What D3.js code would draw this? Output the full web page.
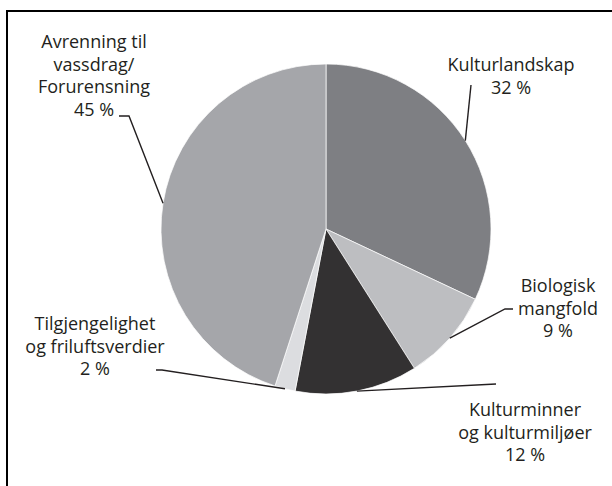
<!DOCTYPE html>
<html>
<head>
<meta charset="utf-8">
<script src="https://cdn.jsdelivr.net/npm/d3@7"></script>
<style>
    body { margin: 0; background: #fff; }
    svg { display: block; }
    .label { font-family: "Open Sans", sans-serif; font-size: 18px; fill: #231f20; }
    .leader { fill: none; stroke: #231f20; stroke-width: 1.4; }
    .frame { fill: none; stroke: #000; stroke-width: 2; }
</style>
</head>
<body>
<svg id="chart" width="612" height="486"></svg>
<script>

const categories = ["Kulturlandskap", "Biologisk mangfold", "Kulturminner og kulturmiljøer", "Tilgjengelighet og friluftsverdier", "Avrenning til vassdrag/Forurensning"];
const values = [32, 9, 12, 2, 45];
const labelLines = [
    ["Kulturlandskap", "32 %"],
    ["Biologisk", "mangfold", "9 %"],
    ["Kulturminner", "og kulturmiljøer", "12 %"],
    ["Tilgjengelighet", "og friluftsverdier", "2 %"],
    ["Avrenning til", "vassdrag/", "Forurensning", "45 %"]
];
const colors = ["#7e7f83", "#bdbec1", "#333132", "#dcdde0", "#a5a6aa"];

// where each label block sits and how its leader runs out from the pie
const layout = [
    { x: 511, y: 71, leader: [[471, 85]] },
    { x: 558, y: 292, leader: [[505, 309], [513, 309]] },
    { x: 525, y: 416, leader: [[496, 384]] },
    { x: 95, y: 330, leader: [[162, 370], [156, 370]] },
    { x: 94, y: 48, leader: [[129, 116], [119, 116]] }
];

class PieChart {

    constructor(svg) {

        this.svg = svg;
        this.cx = 326;
        this.cy = 229;
        this.radius = 165;
        this.lineHeight = 22.5;

        this.arcs = d3.pie()
            .value(d => d.value)
            .sort(null)(categories.map((c, i) => ({ name: c, value: values[i], index: i })));

        this.drawFrame();
        this.drawSlices();
        this.drawLeaders();
        this.drawLabels();

    }

    drawFrame() {

        this.svg
            .append("path")
                .classed("frame", true)
                .attr("d", "M7,486 L7,11 L612,11");

    }

    drawSlices() {

        let arc = d3.arc()
            .innerRadius(0)
            .outerRadius(this.radius);

        this.svg
            .append("g")
                .attr("transform", `translate(${this.cx},${this.cy})`)
                .selectAll("path.slice")
                .data(this.arcs)
                .enter()
                .append("path")
                    .classed("slice", true)
                    .attr("d", arc)
                    .attr("fill", d => colors[d.data.index])
                    .attr("stroke", "#fff")
                    .attr("stroke-width", 0.7);

    }

    drawLeaders() {

        let line = d3.line();

        this.svg
            .append("g")
                .selectAll("path.leader")
                .data(this.arcs)
                .enter()
                .append("path")
                    .classed("leader", true)
                    .attr("d", d => {
                        // start on the rim at the middle of the slice
                        let mid = (d.startAngle + d.endAngle) / 2,
                            start = [this.cx + this.radius * Math.sin(mid), this.cy - this.radius * Math.cos(mid)];
                        return line([start].concat(layout[d.data.index].leader));
                    });

    }

    drawLabels() {

        let labels = this.svg
            .append("g")
                .selectAll("text.label")
                .data(labelLines)
                .enter()
                .append("text")
                    .classed("label", true)
                    .attr("text-anchor", "middle")
                    .attr("x", (d, i) => layout[i].x)
                    .attr("y", (d, i) => layout[i].y);

        labels.each((lines, i, nodes) => {
            d3.select(nodes[i])
                .selectAll("tspan")
                .data(lines)
                .enter()
                .append("tspan")
                    .attr("x", layout[i].x)
                    .attr("y", (d, j) => layout[i].y + j * this.lineHeight)
                    .text(d => d);
        });

    }

}

new PieChart(d3.select("#chart"));

</script>
</body>
</html>
